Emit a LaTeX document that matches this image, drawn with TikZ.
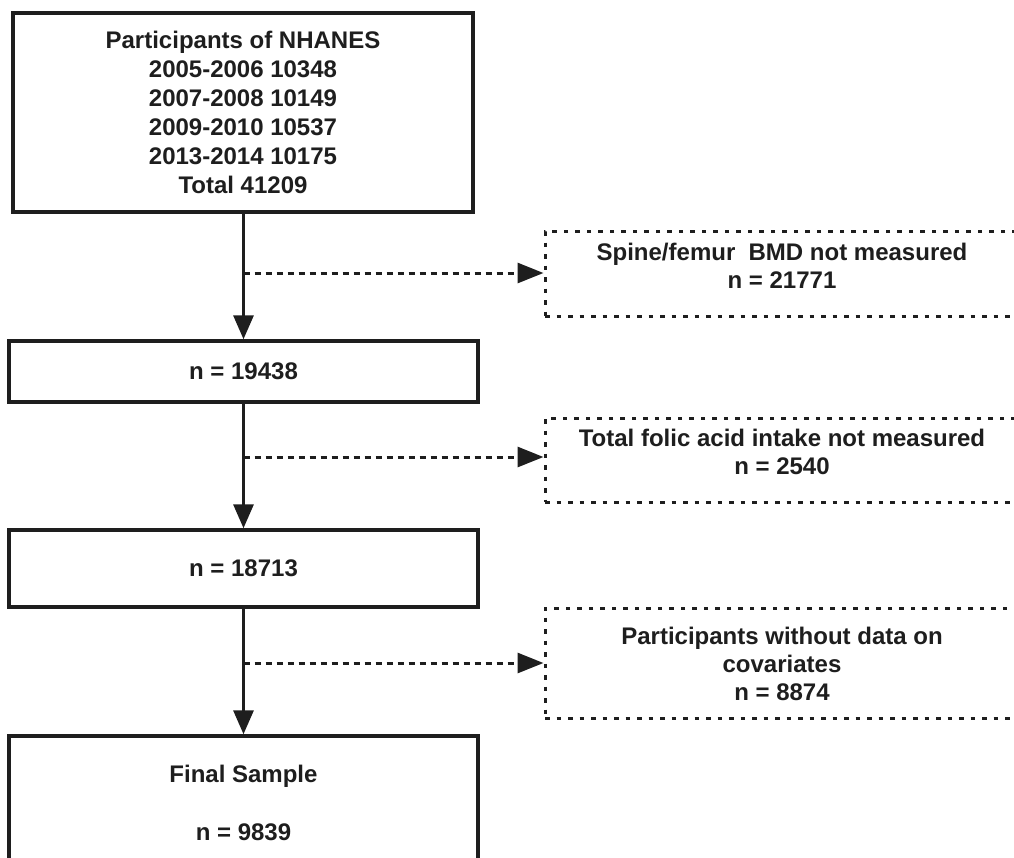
\documentclass[tikz,border=0pt]{standalone}
\usepackage{fontspec}
\setmainfont{Liberation Sans}
\usetikzlibrary{arrows.meta}
\definecolor{ink}{HTML}{1E1E1E}
\begin{document}
\begin{tikzpicture}[x=0.5pt,y=-0.5pt,
  mainbox/.style={draw=ink, line width=1.75pt, fill=white, inner sep=0pt, align=center,
    font=\bfseries\fontsize{12}{14.5}\selectfont, text=ink},
  sidebox/.style={draw=ink, line width=1.5pt, dash pattern=on 2.25pt off 3.5pt, inner sep=0pt},
  sidetext/.style={inner sep=0pt, align=center, font=\bfseries\fontsize{12}{14}\selectfont, text=ink},
  flow/.style={draw=ink, line width=1.6pt, -{Triangle[length=12pt,width=10pt]}},
  skip/.style={draw=ink, line width=1.5pt, dash pattern=on 3pt off 2.5pt, -{Triangle[length=13pt,width=10pt]}}
]
\useasboundingbox (0,0) rectangle (1014,858);
\clip (0,0) rectangle (1014,858);
\fill[white] (0,0) rectangle (1014,858);

% main column
\node[mainbox, minimum width=230pt, minimum height=99.5pt] (b1) at (243,112.5)
  {Participants of NHANES\\2005-2006 10348\\2007-2008 10149\\2009-2010 10537\\2013-2014 10175\\Total 41209};
\node[mainbox, minimum width=234.5pt, minimum height=30.5pt] (b2) at (243.5,371.5) {n = 19438};
\node[mainbox, minimum width=234.5pt, minimum height=38.5pt] (b3) at (243.5,568.5) {n = 18713};
\node[mainbox, minimum width=234.5pt, minimum height=67pt] (b4) at (243.5,803) {Final Sample\\[14.5pt]n = 9839};

% side boxes (cut off on the right)
\node[sidebox, minimum width=237.5pt, minimum height=42.5pt] (r1) at (782.5,273.5) {};
\node[sidetext] (t1) at (782,266) {Spine/femur\ \ BMD not measured\\n = 21771};
\node[sidebox, minimum width=237.5pt, minimum height=42pt] (r2) at (782.5,460) {};
\node[sidetext] (t2) at (782,452) {Total folic acid intake not measured\\n = 2540};
\node[sidebox, minimum width=237.5pt, minimum height=55pt] (r3) at (782.5,663) {};
\node[sidetext] (t3) at (782,663.5) {Participants without data on\\covariates\\n = 8874};

% junctions on the vertical line
\coordinate (j1) at (243.5,273);
\coordinate (j2) at (243.5,457);
\coordinate (j3) at (243.5,663);

% connectors
\draw[flow] (b1.south -| b2.north) -- (b2.north);
\draw[flow] (b2.south) -- (b3.north);
\draw[flow] (b3.south) -- (b4.north);
\draw[skip] (j1) -- (r1.west |- j1);
\draw[skip] (j2) -- (r2.west |- j2);
\draw[skip] (j3) -- (r3.west |- j3);
\end{tikzpicture}
\end{document}
